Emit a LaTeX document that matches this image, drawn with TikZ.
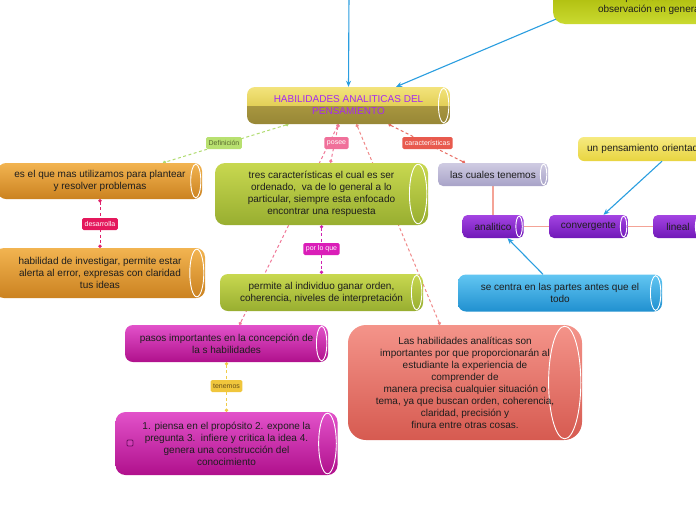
\documentclass[tikz,border=0pt]{standalone}
\usepackage{fontspec}
\setmainfont{Liberation Sans}
\usetikzlibrary{arrows.meta,calc,backgrounds}

\definecolor{txt}{HTML}{1E1E1E}
\definecolor{mainpurple}{HTML}{A52AF0}
\definecolor{yelT}{HTML}{F3E37C}
\definecolor{yelM}{HTML}{E3D058}
\definecolor{olvM}{HTML}{A8963F}
\definecolor{olvB}{HTML}{978736}
\definecolor{trT}{HTML}{A4B200}
\definecolor{trB}{HTML}{CADA30}
\definecolor{grT}{HTML}{C8D850}
\definecolor{grB}{HTML}{98AE30}
\definecolor{orT}{HTML}{F2B451}
\definecolor{orB}{HTML}{CB8220}
\definecolor{mgT}{HTML}{E252CA}
\definecolor{mgB}{HTML}{B0108C}
\definecolor{rdT}{HTML}{F4948A}
\definecolor{rdB}{HTML}{D65A50}
\definecolor{lvT}{HTML}{CFCBE2}
\definecolor{lvB}{HTML}{A8A3C8}
\definecolor{puT}{HTML}{A444E2}
\definecolor{puB}{HTML}{7018B8}
\definecolor{ywT}{HTML}{F6EA80}
\definecolor{ywB}{HTML}{E8D440}
\definecolor{blT}{HTML}{62C6F2}
\definecolor{blB}{HTML}{2090D0}
\definecolor{arrowblue}{HTML}{2A9EE0}
\definecolor{salmon}{HTML}{F4A396}
\definecolor{cDef}{HTML}{B0DC70}
\definecolor{cPos}{HTML}{F07898}
\definecolor{cRed}{HTML}{F08888}
\definecolor{cCar}{HTML}{E86A60}
\definecolor{cPor}{HTML}{D020B0}
\definecolor{cDes}{HTML}{E0206A}
\definecolor{cTen}{HTML}{F0CC48}
\definecolor{fDef}{HTML}{B8E070}
\definecolor{tDef}{HTML}{5A6A30}
\definecolor{fPos}{HTML}{F0709A}
\definecolor{fCar}{HTML}{E85A4E}
\definecolor{fPor}{HTML}{DA1EB8}
\definecolor{fDes}{HTML}{E4185C}
\definecolor{fTen}{HTML}{F0C63C}
\definecolor{tTen}{HTML}{6A5018}
\definecolor{chkC}{HTML}{6A1060}

\pgfdeclareverticalshading{mainshade}{100bp}{color(0bp)=(olvB); color(25bp)=(olvB); color(50bp)=(olvM); color(50.5bp)=(yelM); color(75bp)=(yelT); color(100bp)=(yelT)}

\tikzset{
  cyl/.style={rounded corners=#1, inner sep=2pt, align=center, text=txt,
    font=\fontsize{10}{12}\selectfont,
    path picture={\draw[white, line width=0.9pt, sharp corners]
      let \p1=(path picture bounding box.north east),
          \p2=(path picture bounding box.south east),
          \n1={(\y1-\y2)*0.14} in
      ({\x1-\n1-1.2pt},{(\y1+\y2)/2}) ellipse [x radius={\n1*1pt}, y radius={(\y1-\y2)/2-1.2pt}];}},
  cyl/.default=8pt,
  grn/.style={top color=grT, bottom color=grB},
  org/.style={top color=orT, bottom color=orB},
  mag/.style={top color=mgT, bottom color=mgB},
  pur/.style={top color=puT, bottom color=puB},
  lab/.style={rounded corners=1.5pt, inner xsep=2.5pt, inner ysep=0pt, minimum height=12pt,
    font=\fontsize{7}{8}\selectfont, text=white},
  dcon/.style={line width=1pt, dash pattern=on 3pt off 2.5pt, {Circle[length=3.2pt]}-{Circle[length=3.2pt]}},
  blu/.style={draw=arrowblue, line width=1.1pt, -{Stealth[length=6pt,width=5pt]}},
  sal/.style={draw=salmon, line width=1.4pt}
}

\begin{document}
\begin{tikzpicture}[x=1pt,y=-1pt]
\useasboundingbox (0,0) rectangle (696,520);
\clip (0,0) rectangle (696,520);

% nodes
\node[cyl, shade, shading=mainshade, minimum width=203pt, minimum height=37pt, text=mainpurple]
  (main) at (348.5,105.5) {HABILIDADES ANALITICAS DEL\\PENSAMIENTO};
\node[cyl=12pt, top color=trT, bottom color=trB, minimum width=194pt, minimum height=40pt]
  (tr) at (650,4) {proceso de\\observación en general};
\node[cyl=10pt, grn, minimum width=213pt, minimum height=62pt]
  (tres) at (321.5,194) {tres características el cual es ser\\ordenado,\ \ va de lo general a lo\\particular, siempre esta enfocado\\encontrar una respuesta};
\node[cyl, grn, minimum width=203pt, minimum height=37pt]
  (permite) at (321.5,292.5) {permite al individuo ganar orden,\\coherencia, niveles de interpretación};
\node[cyl, org, minimum width=204pt, minimum height=36pt]
  (or1) at (100,181) {es el que mas utilizamos para plantear\\y resolver problemas};
\node[cyl=9pt, org, minimum width=210pt, minimum height=50pt]
  (or2) at (100,273) {habilidad de investigar, permite estar\\alerta al error, expresas con claridad\\tus ideas};
\node[cyl, mag, minimum width=203pt, minimum height=37pt]
  (pasos) at (226.5,343.5) {pasos importantes en la concepción de\\la s habilidades};
\node[cyl=10pt, mag, minimum width=222pt, minimum height=63pt]
  (piensa) at (226.5,443.5) {1. piensa en el propósito 2. expone la\\pregunta 3.\ \ infiere y critica la idea 4.\\genera una construcción del\\conocimiento};
\node[draw=chkC, line width=0.8pt, fill=mgT!70!mgB, rounded corners=1pt, minimum size=6pt, inner sep=0pt]
  (chk) at (130,443) {};
\node[cyl=18pt, top color=rdT, bottom color=rdB, minimum width=234pt, minimum height=115pt]
  (red) at (465,382.5) {Las habilidades analíticas son\\importantes por que proporcionarán al\\estudiante la experiencia de\\comprender de\\manera precisa cualquier situación o\\tema, ya que buscan orden, coherencia,\\claridad, precisión y\\finura entre otras cosas.};
\node[cyl=5pt, top color=lvT, bottom color=lvB, minimum width=110pt, minimum height=23pt]
  (lasc) at (493,174.5) {las cuales tenemos};
\node[cyl=5pt, pur, minimum width=61pt, minimum height=23pt] (anal) at (493,226.5) {analitico};
\node[cyl=5pt, pur, minimum width=79pt, minimum height=23pt] (conv) at (588.5,226.5) {convergente};
\node[cyl=5pt, pur, minimum width=50pt, minimum height=23pt] (lin) at (678,226.5) {lineal};
\node[cyl=6pt, top color=ywT, bottom color=ywB, minimum height=24pt, text width=128pt, inner xsep=9pt, align=left]
  (upens) at (651,149) {un pensamiento orientado};
\node[cyl, top color=blT, bottom color=blB, minimum width=204pt, minimum height=37pt]
  (secentra) at (560,293) {se centra en las partes antes que el\\todo};

\coordinate (topsrc) at (349,-5);

% connectors
\begin{pgfonlayer}{background}
\fill[white] (0,0) rectangle (696,520);
\draw[dcon, draw=cDef] ([xshift=-60pt]main.south) -- ([xshift=63pt]or1.north);
\draw[dcon, draw=cPos] ([xshift=-10pt]main.south) -- ([xshift=13pt]pasos.north);
\draw[dcon, draw=cPos] ([xshift=-10pt]main.south) -- ([xshift=9pt]tres.north);
\draw[dcon, draw=cRed] ([xshift=8pt]main.south) -- ([xshift=-25pt]red.north);
\draw[dcon, draw=cCar] ([xshift=40pt]main.south) -- ([xshift=-28pt]lasc.north);
\draw[dcon, draw=cPor] (tres.south) -- (permite.north);
\draw[dcon, draw=cDes] (or1.south) -- (or2.north);
\draw[dcon, draw=cTen] (pasos.south) -- (piensa.north);
\draw[sal] (lasc.south) -- (anal.north);
\draw[sal] (anal.east) -- (conv.west);
\draw[sal] (conv.east) -- (lin.west);
\end{pgfonlayer}

% labels
\node[lab, fill=fDef, text=tDef] (lDef) at (224,143) {Definición};
\node[lab, fill=fPos] (lPos) at (336.5,143) {posee};
\node[lab, fill=fCar] (lCar) at (427.5,143) {características};
\node[lab, fill=fPor] (lPor) at (321.5,249) {por lo que};
\node[lab, fill=fDes] (lDes) at (100,224) {desarrolla};
\node[lab, fill=fTen, text=tTen] (lTen) at (226.5,386) {tenemos};

% blue arrows
\draw[blu] (topsrc) -- (main.north);
\draw[blu] ([shift={(3,-5)}]tr.south west) -- ([xshift=47.5pt]main.north);
\draw[blu] ([xshift=11pt]upens.south) -- ([xshift=15pt]conv.north);
\draw[blu] ([xshift=-17pt]secentra.north) -- ([xshift=14.5pt]anal.south);
\end{tikzpicture}
\end{document}
